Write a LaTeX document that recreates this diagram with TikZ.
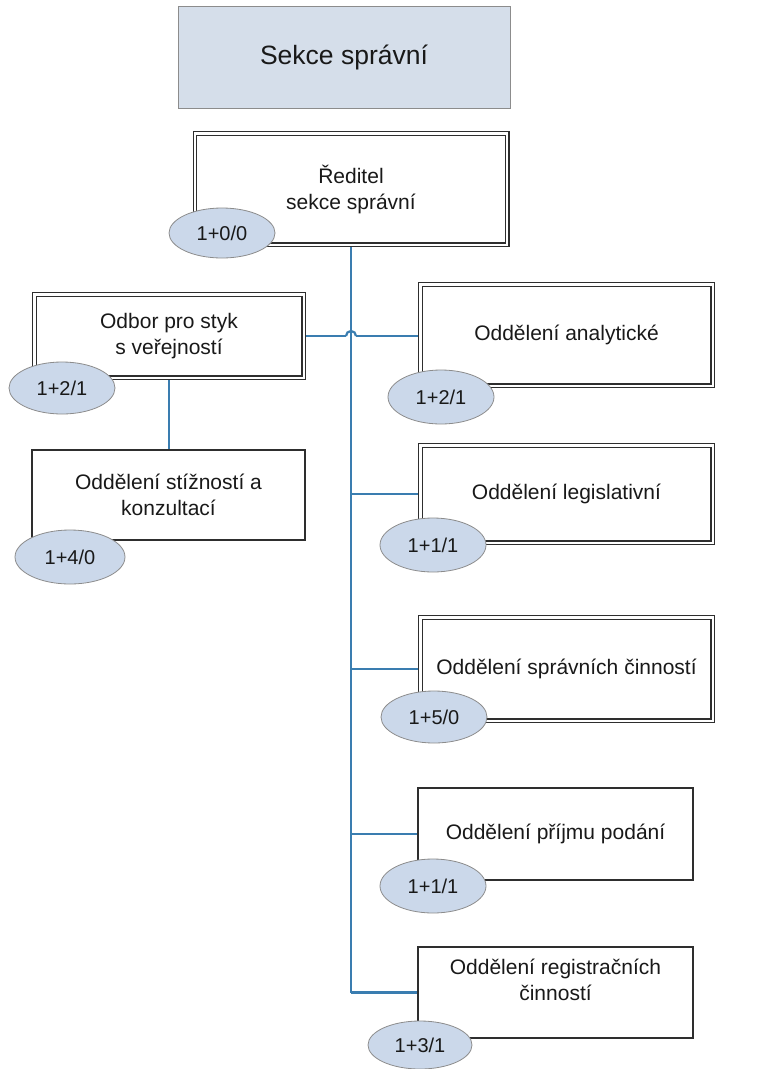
\documentclass[tikz,border=0pt]{standalone}
\usepackage{fontspec}
\setmainfont{Liberation Sans}
\usetikzlibrary{shapes.geometric,positioning}

\definecolor{linkblue}{HTML}{3A7DB0}
\definecolor{headfill}{HTML}{D5DEEA}
\definecolor{countfill}{HTML}{CBD8EA}
\definecolor{countline}{HTML}{8C8C8C}
\definecolor{boxline}{HTML}{2E2E2E}

\tikzset{
  unit/.style={draw=boxline, line width=1.6pt, fill=white, inner sep=0pt, align=center,
    text=black!90, font=\fontsize{21}{26}\selectfont},
  dunit/.style={unit, double, double distance=2.4pt, line width=1.1pt, outer sep=2.3pt},
  count/.style={ellipse, draw=countline, line width=0.8pt, fill=countfill, text=black!90,
    minimum width=106pt, minimum height=52pt, inner sep=0pt, font=\fontsize{20}{24}\selectfont},
  link/.style={draw=linkblue, line width=2.2pt}
}

\begin{document}
\begin{tikzpicture}[x=1pt,y=-1pt]
  \useasboundingbox (0,0) rectangle (760,1069);

  % header
  \node [draw=countline, line width=1pt, fill=headfill, minimum width=332pt, minimum height=102pt,
    inner sep=0pt, text=black!90, font=\fontsize{26.5}{30}\selectfont] (head) at (344,57) {Sekce správní};

  % boxes
  \node [dunit, minimum width=312.4pt, minimum height=111.4pt] (dir) at (351,189) {Ředitel\\sekce správní};
  \node [dunit, minimum width=269.4pt, minimum height=83.4pt] (odbor) at (169,336) {Odbor pro styk\\s veřejností};
  \node [unit, minimum width=273pt, minimum height=90pt] (stiz) at (168.5,495) {Oddělení stížností a\\konzultací};
  \node [dunit, minimum width=292.4pt, minimum height=101.4pt] (anal) at (566.5,335) {Oddělení analytické};
  \node [dunit, minimum width=292.4pt, minimum height=97.4pt] (legis) at (566.5,494) {Oddělení legislativní};
  \node [dunit, minimum width=292.4pt, minimum height=103.4pt] (sprav) at (566.5,669) {Oddělení správních činností};
  \node [unit, minimum width=275pt, minimum height=92pt] (prijmu) at (555.5,834) {Oddělení příjmu podání};
  \node [unit, minimum width=275pt, minimum height=91pt, text depth=26pt] (regis) at (555.5,992.5) {Oddělení registračních\\činností};

  % staff counts
  \node [count, minimum height=50pt] (c-dir) at (222,233) {1+0/0};
  \node [count] (c-odbor) at (62,388) {1+2/1};
  \node [count, minimum width=110pt, minimum height=54pt] (c-stiz) at (70,557) {1+4/0};
  \node [count, minimum height=54pt] (c-anal) at (441,397) {1+2/1};
  \node [count, minimum height=54pt] (c-legis) at (433,545) {1+1/1};
  \node [count] (c-sprav) at (434,717) {1+5/0};
  \node [count, minimum height=54pt] (c-prijmu) at (433,886) {1+1/1};
  \node [count, minimum width=104pt, minimum height=48pt] (c-regis) at (420,1045) {1+3/1};

  % links
  \coordinate (hop) at (dir.south |- odbor.east);
  \coordinate (foot) at (dir.south |- regis.west);
  \draw [link] (dir.south) -- (foot);
  \foreach \u in {legis,sprav,prijmu,regis}
    \draw [link] (dir.south |- \u.west) -- (\u.west);
  \draw [link] (odbor.east) -- ([xshift=-5pt]hop);
  \draw [link] ([xshift=-5pt]hop) arc[start angle=180, end angle=0, radius=5pt];
  \draw [link] ([xshift=5pt]hop) -- (anal.west |- odbor.east);
  \draw [link] (odbor.south) -- (odbor.south |- stiz.north);
\end{tikzpicture}
\end{document}
